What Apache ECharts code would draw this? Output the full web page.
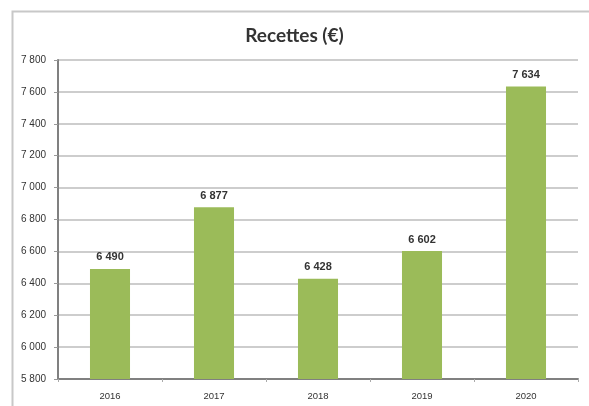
<!DOCTYPE html>
<html>
<head>
<meta charset="utf-8">
<style>
  html, body { margin: 0; padding: 0; background: #fff; }
  #chart { width: 589px; height: 406px; }
</style>
<script src="https://cdn.jsdelivr.net/npm/echarts@6/dist/echarts.min.js"></script>
</head>
<body>
<div id="chart"></div>
<script>
// Yearly receipts in euros
const years = ['2016', '2017', '2018', '2019', '2020'];
const recettes = [6490, 6877, 6428, 6602, 7634];
const yMin = 5800;
const yMax = 7800;
const yStep = 200;

// French-style thousands separator: 7 800
function fmt(v) {
  return String(v).replace(/\B(?=(\d{3})+(?!\d))/g, ' ');
}

const chart = echarts.init(document.getElementById('chart'), null, { renderer: 'canvas' });

chart.setOption({
  animation: false,
  backgroundColor: '#ffffff',
  graphic: [{
    type: 'rect',
    shape: { x: 12.5, y: 11.5, width: 600, height: 420 },
    style: { fill: 'none', stroke: '#c8c8c8', lineWidth: 2 },
    silent: true
  }],
  title: {
    text: 'Recettes (€)',
    left: 'center',
    top: 21,
    textStyle: { fontFamily: 'Lato, "Open Sans", sans-serif', fontWeight: 'bold', fontSize: 19, color: '#333' }
  },
  grid: { left: 58, right: 11, top: 60, bottom: 27, containLabel: false },
  xAxis: {
    type: 'category',
    data: years,
    axisLine: { lineStyle: { color: '#808080', width: 2 } },
    axisTick: { show: true, length: 3, lineStyle: { color: '#aaa' } },
    axisLabel: { fontFamily: '"Liberation Sans", sans-serif', fontSize: 9.5, color: '#333', margin: 12 }
  },
  yAxis: {
    type: 'value',
    min: yMin,
    max: yMax,
    interval: yStep,
    axisLine: { show: true, lineStyle: { color: '#808080', width: 2 } },
    axisTick: { show: true, length: 4, lineStyle: { color: '#999' } },
    splitLine: { lineStyle: { color: '#bdbdbd', width: 1.5 } },
    axisLabel: {
      fontFamily: '"Liberation Sans", sans-serif', fontSize: 10, color: '#333', margin: 12,
      formatter: fmt
    }
  },
  series: [{
    type: 'bar',
    data: recettes,
    barWidth: '38.5%',
    itemStyle: { color: '#9bbb59' },
    label: {
      show: true,
      position: 'top',
      distance: 6,
      formatter: p => fmt(p.value),
      fontFamily: '"Liberation Sans", sans-serif',
      fontWeight: 'bold',
      fontSize: 11,
      color: '#333'
    }
  }]
});
</script>
</body>
</html>
